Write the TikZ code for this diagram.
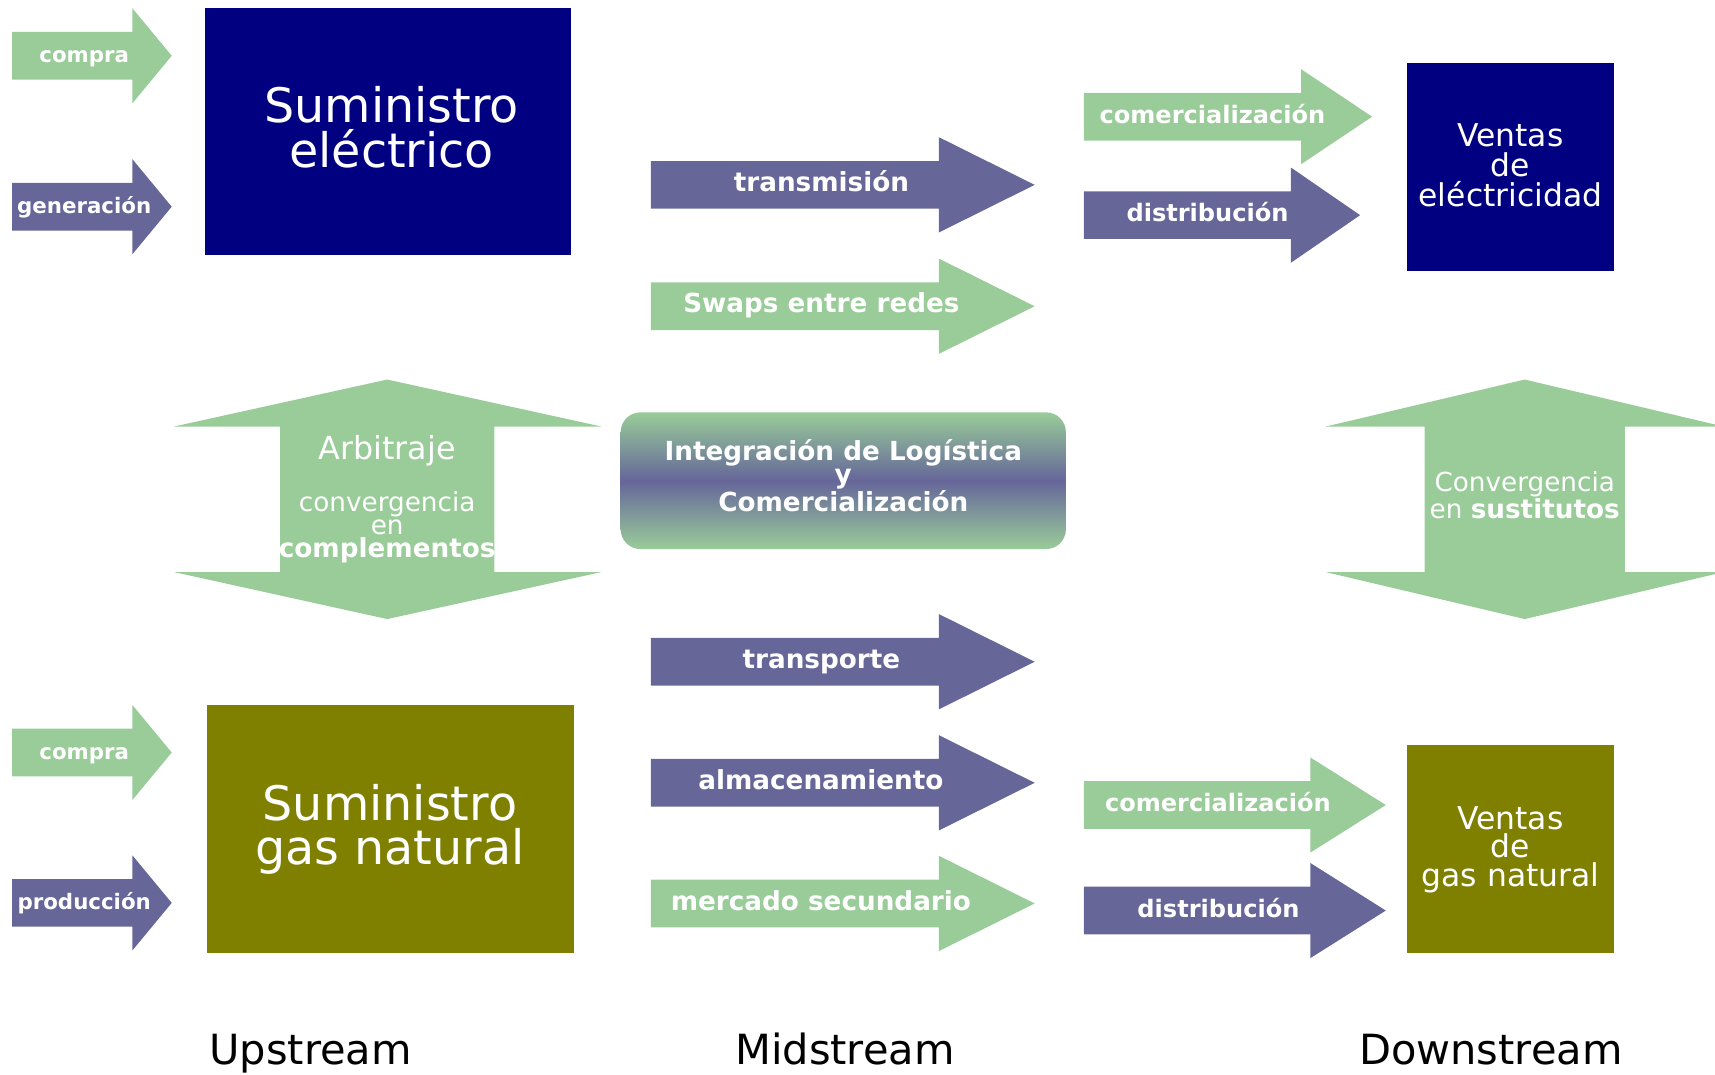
\documentclass[tikz,border=0pt]{standalone}
\usepackage{fontspec}
\setmainfont{DejaVu Sans}
\definecolor{verde}{HTML}{99CC99}
\definecolor{morado}{HTML}{666699}
\definecolor{azul}{HTML}{000080}
\definecolor{oliva}{HTML}{808000}

\begin{document}
\begin{tikzpicture}[x=1pt,y=-1pt,
    etiq/.style={anchor=base,yshift=-6pt,text=white,inner sep=0pt},
    chica/.style={etiq,font=\bfseries\fontsize{19.5}{22}\selectfont},
    media/.style={etiq,font=\bfseries\fontsize{22}{24}\selectfont},
    grande/.style={etiq,font=\bfseries\fontsize{24}{26}\selectfont},
    texto/.style={anchor=base,align=center,text=white,inner sep=0pt},
    caja/.style={anchor=north west,inner sep=0pt,outer sep=0pt}]

    \def\flecha#1#2#3#4#5{\fill[#1] (#2,#5-21.8) -- (#3,#5-21.8) -- (#3,#5-43.5)
        -- (#4,#5) -- (#3,#5+43.5) -- (#3,#5+21.8) -- (#2,#5+21.8) -- cycle;}

    \def\arbitraje{(354,347) -- (550,390) -- (452,390) -- (452,523) -- (550,523)
        -- (354,566) -- (159,523) -- (256,523) -- (256,390) -- (159,390) -- cycle}
    \def\sustitutos{(1394,347) -- (1576,390) -- (1485.5,390) -- (1485.5,523) -- (1576,523)
        -- (1394,566) -- (1212,523) -- (1302.5,523) -- (1302.5,390) -- (1212,390) -- cycle}

    \useasboundingbox (0,0) rectangle (1568,982);
    \clip (0,0) rectangle (1568,982);

    %boxes:
    \node[caja,fill=azul,minimum width=335pt,minimum height=226pt] (elec) at (187,7) {};
    \node[caja,fill=oliva,minimum width=336pt,minimum height=226pt] (gas) at (189,645) {};
    \node[caja,fill=azul,minimum width=190pt,minimum height=190pt] (ventasE) at (1286,58) {};
    \node[caja,fill=oliva,minimum width=190pt,minimum height=190pt] (ventasG) at (1286,681) {};

    %text sits on its last line
    \node[texto,font=\fontsize{43.5}{41}\selectfont] (elecTxt) at (358,153.3) {Suministro\\eléctrico};
    \node[texto,font=\fontsize{43.5}{41}\selectfont] (gasTxt) at (356.5,790.8) {Suministro\\gas natural};
    \node[texto,font=\fontsize{28.7}{27.5}\selectfont] (ventasETxt) at (1381,189) {Ventas\\de\\eléctricidad};
    \node[texto,font=\fontsize{28.7}{26.3}\selectfont] (ventasGTxt) at (1381,810.6) {Ventas\\de\\gas natural};

    %upstream arrows:
    \flecha{verde}{11}{121}{157}{51}
    \flecha{morado}{11}{121}{157}{189}
    \flecha{verde}{11}{121}{157}{688}
    \flecha{morado}{11}{121}{157}{825.5}
    \node[chica] (compraE) at (77,51) {compra};
    \node[chica] (generacion) at (77,189) {generación};
    \node[chica] (compraG) at (77,688) {compra};
    \node[chica] (produccion) at (77,825.5) {producción};

    %midstream arrows:
    \flecha{morado}{595}{858.5}{946}{169}
    \flecha{verde}{595}{858.5}{946}{280}
    \flecha{morado}{595}{858.5}{946}{605}
    \flecha{morado}{595}{858.5}{946}{715.7}
    \flecha{verde}{595}{858.5}{946}{826}
    \node[grande] (transmision) at (751,169) {transmisión};
    \node[grande] (swaps) at (751,280) {Swaps entre redes};
    \node[grande] (transporte) at (751,605) {transporte};
    \node[grande] (almacen) at (750.5,715.7) {almacenamiento};
    \node[grande] (mercado) at (750.5,826) {mercado secundario};

    %downstream arrows:
    \flecha{verde}{991}{1189.5}{1254.5}{106.7}
    \flecha{morado}{991}{1180.3}{1243.5}{196.7}
    \flecha{verde}{991}{1198}{1267}{736}
    \flecha{morado}{991}{1198}{1267}{832.5}
    \node[media] (comercE) at (1108.5,106.7) {comercialización};
    \node[media] (distE) at (1104,196.7) {distribución};
    \node[media] (comercG) at (1113.5,736) {comercialización};
    \node[media] (distG) at (1114,832.5) {distribución};

    %double arrows:
    \fill[verde] \arbitraje;
    \fill[verde] \sustitutos;
    \node[texto,font=\fontsize{29}{30}\selectfont] (arbTxt) at (354,420.5) {Arbitraje};
    \node[texto,font=\fontsize{24}{21}\selectfont] (complTxt) at (354,509.8)
        {convergencia\\en\\\textbf{complementos}};
    \node[texto,font=\fontsize{24}{20}\selectfont] (sustTxt) at (1394,473.9)
        {Convergencia\\en \textbf{sustitutos}};

    %integration:
    \node[rounded corners=18pt,top color=verde,bottom color=verde,middle color=morado,
        minimum width=407pt,minimum height=125pt,inner sep=0pt] (integ) at (771,439.5) {};
    \node[texto,font=\bfseries\fontsize{24}{21.5}\selectfont] (integTxt) at (771,467.8)
        {Integración de Logística\\y\\Comercialización};

    %stream names:
    \node[anchor=base,inner sep=0pt,font=\fontsize{38}{40}\selectfont] (up) at (284,973.7) {Upstream};
    \node[anchor=base,inner sep=0pt,font=\fontsize{38}{40}\selectfont] (mid) at (772.5,973.7) {Midstream};
    \node[anchor=base,inner sep=0pt,font=\fontsize{38}{40}\selectfont] (down) at (1363,973.7) {Downstream};

\end{tikzpicture}
\end{document}
